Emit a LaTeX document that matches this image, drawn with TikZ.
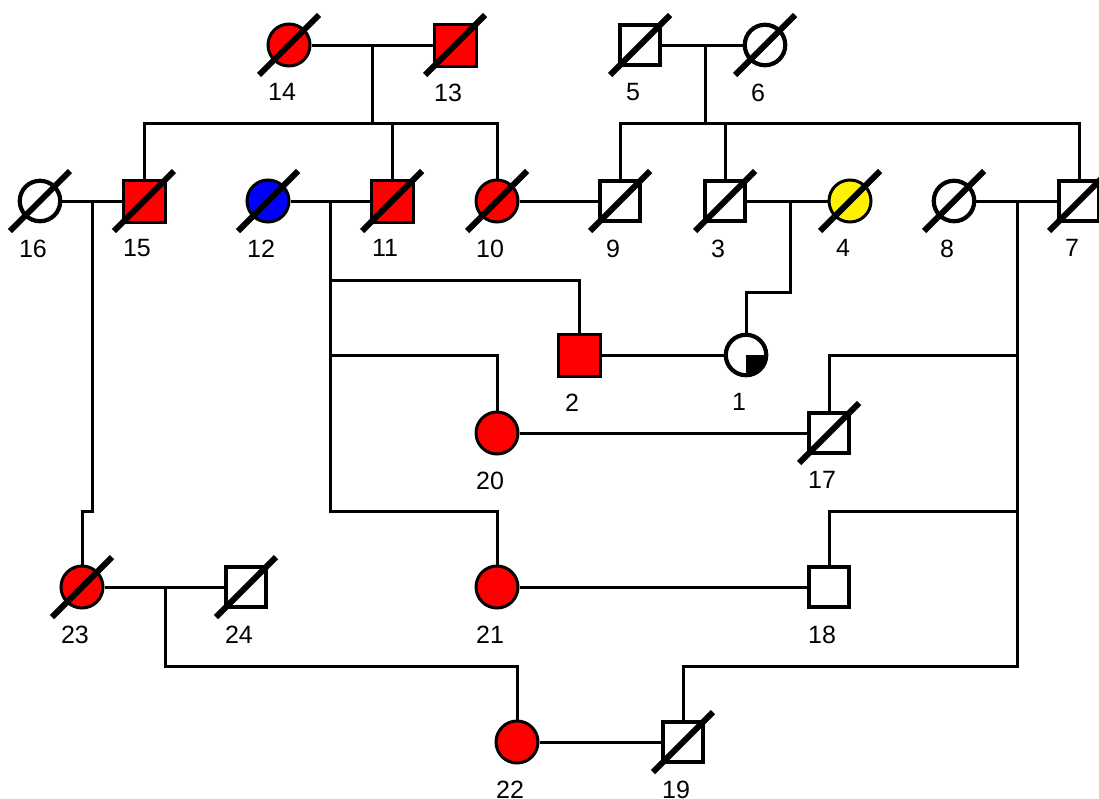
\documentclass[tikz,border=0pt]{standalone}
\usepackage{fontspec}
\setmainfont{Liberation Sans}

\tikzset{
    person/.style={draw, line width=4.2pt, minimum size=40.5pt, inner sep=0pt, fill=white},
    male/.style={person, rectangle},
    female/.style={person, circle},
    affected/.style={fill=#1, line width=3pt, minimum size=42pt},
    link/.style={line width=3pt},
    every label/.style={inner sep=0pt, xshift=-7pt, font=\fontsize{25}{29}\selectfont},
}
\newcommand{\deceased}[1]{\draw[line width=6pt] ([shift={(-30,30)}]#1.center) -- ([shift={(30,-30)}]#1.center);}

\begin{document}
\begin{tikzpicture}[x=1pt, y=-1pt, label distance=16pt]
        \useasboundingbox (0,0) rectangle (1099,798);

        \node[female, affected=red, label={below:14}] (n14) at (289,45) {};
        \node[male, affected=red, label={below:13}] (n13) at (455,45) {};
        \node[male, label={below:5}] (n5) at (640,45) {};
        \node[female, label={below:6}] (n6) at (765,45) {};

        \node[female, label={below:16}] (n16) at (40,201) {};
        \node[male, affected=red, label={below:15}] (n15) at (144,201) {};
        \node[female, affected=blue, label={below:12}] (n12) at (268,201) {};
        \node[male, affected=red, label={below:11}] (n11) at (392,201) {};
        \node[female, affected=red, label={below:10}] (n10) at (497,201) {};
        \node[male, label={below:9}] (n9) at (620,201) {};
        \node[male, label={below:3}] (n3) at (725,201) {};
        \node[female, affected=yellow, label={below:4}] (n4) at (850,201) {};
        \node[female, label={below:8}] (n8) at (954,201) {};
        \node[male, label={below:7}] (n7) at (1079,201) {};

        \node[male, affected=red, label={below:2}] (n2) at (579,355) {};
        \node[female, label={below:1}, path picture={\fill[black] (path picture bounding box.center) rectangle (path picture bounding box.south east);}] (n1) at (746,355) {};

        \node[female, affected=red, label={below:20}] (n20) at (497,433) {};
        \node[male, label={below:17}] (n17) at (829,433) {};
        \node[female, affected=red, label={below:23}] (n23) at (82,587) {};
        \node[male, label={below:24}] (n24) at (246,587) {};
        \node[female, affected=red, label={below:21}] (n21) at (497,587) {};
        \node[male, label={below:18}] (n18) at (829,587) {};
        \node[female, affected=red, label={below:22}] (n22) at (517,742) {};
        \node[male, label={below:19}] (n19) at (683,742) {};

        \coordinate (m14) at (372,45);
        \coordinate (s14) at (372,123);
        \coordinate (m5) at (705,45);
        \coordinate (s5) at (705,123);
        \coordinate (m16) at (92,201);
        \coordinate (j23) at (92,511);
        \coordinate (m12) at (330,201);
        \coordinate (b2) at (330,280);
        \coordinate (b20) at (330,355);
        \coordinate (b21) at (330,511);
        \coordinate (m3) at (790,201);
        \coordinate (b1) at (790,292);
        \coordinate (m8) at (1017,201);
        \coordinate (b17) at (1017,355);
        \coordinate (b18) at (1017,511);
        \coordinate (b19) at (1017,666);
        \coordinate (m23) at (165,587);
        \coordinate (b22) at (165,666);

        \draw[link] (n14) -- (n13);
        \draw[link] (n5) -- (n6);
        \draw[link] (n16) -- (n15);
        \draw[link] (n12) -- (n11);
        \draw[link] (n10) -- (n9);
        \draw[link] (n3) -- (n4);
        \draw[link] (n8) -- (n7);
        \draw[link] (n2) -- (n1);
        \draw[link] (n20) -- (n17);
        \draw[link] (n21) -- (n18);
        \draw[link] (n23) -- (n24);
        \draw[link] (n22) -- (n19);

        \draw[link] (m14) -- (s14);
        \draw[link] (n15.north) |- (s14) -| (n10.north);
        \draw[link] (s14 -| n11) -- (n11.north);
        \draw[link] (m5) -- (s5);
        \draw[link] (n9.north) |- (s5) -| (n7.north);
        \draw[link] (s5 -| n3) -- (n3.north);

        \draw[link] (m16) -- (j23) -| (n23.north);
        \draw[link] (m12) -- (b21) -| (n21.north);
        \draw[link] (b2) -| (n2.north);
        \draw[link] (b20) -| (n20.north);
        \draw[link] (m3) -- (b1) -| (n1.north);
        \draw[link] (m8) -- (b19) -| (n19.north);
        \draw[link] (b17) -| (n17.north);
        \draw[link] (b18) -| (n18.north);
        \draw[link] (m23) -- (b22) -| (n22.north);

        \deceased{n14} \deceased{n13} \deceased{n5} \deceased{n6}
        \deceased{n16} \deceased{n15} \deceased{n12} \deceased{n11} \deceased{n10}
        \deceased{n9} \deceased{n3} \deceased{n4} \deceased{n8} \deceased{n7}
        \deceased{n17} \deceased{n23} \deceased{n24} \deceased{n19}
\end{tikzpicture}
\end{document}
